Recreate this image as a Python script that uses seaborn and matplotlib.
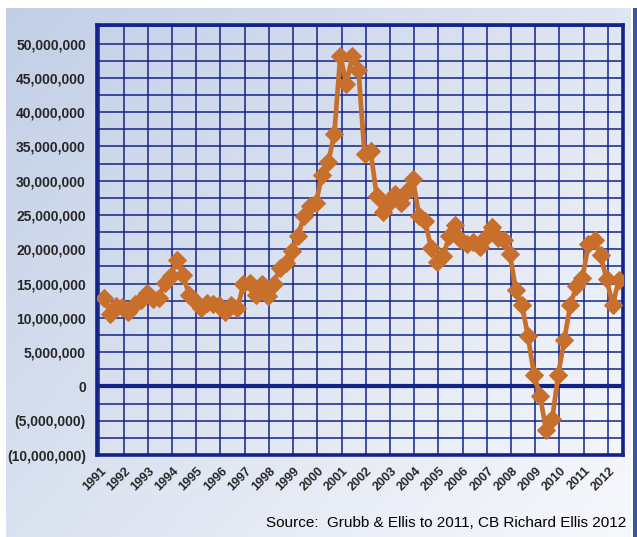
import numpy as np
import pandas as pd
import matplotlib
matplotlib.use("Agg")
import matplotlib.pyplot as plt
import matplotlib.ticker as mticker
import seaborn as sns

# Quarterly net absorption (square feet, in millions), 1991Q1 - 2012Q2
years = [str(y) for y in range(1991, 2013)]
absorption_m = [
    12.9, 10.6, 11.7, 11.6,   # 1991
    10.9, 12.0, 12.6, 13.6,   # 1992
    12.7, 12.9, 15.1, 16.1,   # 1993
    18.5, 16.3, 13.4, 12.4,   # 1994
    11.4, 12.2, 12.0, 11.8,   # 1995
    10.8, 11.9, 11.4, 14.9,   # 1996
    15.1, 13.4, 14.9, 13.2,   # 1997
    14.9, 17.3, 18.0, 19.7,   # 1998
    21.9, 24.9, 26.3, 26.8,   # 1999
    30.9, 32.7, 36.8, 48.2,   # 2000
    44.1, 48.2, 46.1, 33.9,   # 2001
    34.4, 27.8, 25.4, 26.8,   # 2002
    28.0, 26.7, 28.5, 30.2,   # 2003
    24.9, 24.1, 20.2, 18.2,   # 2004
    19.0, 22.0, 23.6, 21.4,   # 2005
    20.8, 21.0, 20.3, 21.8,   # 2006
    23.2, 21.7, 21.4, 19.3,   # 2007
    14.1, 11.9, 7.3, 1.7,     # 2008
    -1.4, -6.4, -4.8, 1.7,    # 2009
    6.8, 11.9, 14.6, 15.8,    # 2010
    20.7, 21.3, 19.1, 15.6,   # 2011
    11.9, 15.5,               # 2012
]
source_note = "Source:  Grubb & Ellis to 2011, CB Richard Ellis 2012"

df = pd.DataFrame({"value": np.array(absorption_m) * 1e6})
df["q"] = np.arange(len(df))

navy = "#14238a"
orange = "#c8702b"

sns.set_style("white")
plt.rcParams["font.family"] = ["Liberation Sans", "DejaVu Sans"]

fig = plt.figure(figsize=(6.37, 5.37), dpi=100)

# gradient panel behind everything
bg = fig.add_axes([0, 0, 1, 1], zorder=-5)
bg.set_xlim(0, 637)
bg.set_ylim(537, 0)
bg.axis("off")
gx, gy = np.meshgrid(np.linspace(0, 1, 200), np.linspace(0, 1, 200))
t = np.clip((gx * 0.55 + gy * 0.45), 0, 1)[..., None]
c0 = np.array([0.76, 0.81, 0.90])
c1 = np.array([0.97, 0.975, 0.99])
bg.imshow(c0 * (1 - t) + c1 * t, extent=[6, 631, 537, 8], aspect="auto")
bg.add_patch(plt.Rectangle((633, 8), 4, 529, color="#3557a5", lw=0))

ax = fig.add_axes([97 / 637, 1 - 455 / 537, 526 / 637, 430 / 537])
ax.set_facecolor("none")

sns.lineplot(data=df, x="q", y="value", ax=ax, color=orange, lw=3.4,
             marker="D", markersize=9.5, markeredgecolor=orange, zorder=5)

ax.set_xlim(-1.2, 85.7)
ax.set_ylim(-10e6, 52.7e6)

ax.yaxis.set_major_locator(mticker.MultipleLocator(5e6))
ax.yaxis.set_minor_locator(mticker.MultipleLocator(2.5e6))
ax.yaxis.set_major_formatter(mticker.FuncFormatter(
    lambda v, p: f"({abs(v):,.0f})" if v < 0 else f"{v:,.0f}"))

ax.set_xticks(np.arange(0, len(df) + 2, 4)[:len(years)])
ax.set_xticklabels(years)
ax.set_xticks(np.arange(-0.8, 86, 4), minor=True)

ax.grid(True, which="minor", axis="x", color=navy, lw=1.1)
ax.grid(True, which="both", axis="y", color=navy, lw=1.1)
ax.axhline(0, color=navy, lw=3, zorder=3)

for s in ax.spines.values():
    s.set_color(navy)
    s.set_linewidth(2.6)

ax.tick_params(axis="both", which="both", length=0)
ax.tick_params(axis="y", pad=8, labelsize=10)
ax.tick_params(axis="x", pad=10, labelsize=9)
for lab in ax.get_yticklabels():
    lab.set_fontweight("bold")
for lab in ax.get_xticklabels():
    lab.set_fontweight("bold")
    lab.set_rotation(45)
    lab.set_ha("right")
    lab.set_va("center")
    lab.set_rotation_mode("anchor")

ax.set_xlabel("")
ax.set_ylabel("")

fig.text(626 / 637, 1 - 523 / 537, source_note, ha="right", va="center",
         fontsize=11, color="black")

fig.savefig("out.png", dpi=100)
